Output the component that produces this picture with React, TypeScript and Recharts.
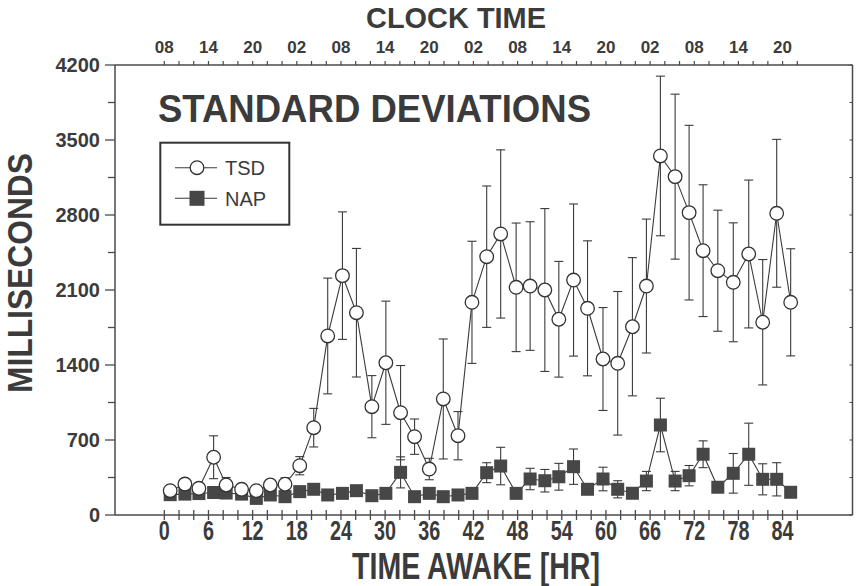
import React from "react";
import { ComposedChart, Line, XAxis, YAxis, ErrorBar } from "recharts";

// time awake (hr) of each test session, as placed in the figure
const hours = [
  0.8, 2.8, 4.7, 6.7, 8.4, 10.5, 12.5, 14.4, 16.4, 18.4, 20.3, 22.2, 24.2, 26.1, 28.2, 30.1,
  32.1, 34.0, 36.0, 37.9, 39.9, 41.8, 43.8, 45.7, 47.8, 49.7, 51.7, 53.6, 55.6, 57.5, 59.6,
  61.6, 63.6, 65.5, 67.4, 69.4, 71.3, 73.2, 75.2, 77.3, 79.4, 81.3, 83.2, 85.1,
];

// total sleep deprivation group, mean SD (ms) and its error
const tsdMean = [
  227, 289, 249, 539, 280, 240, 227, 280, 287, 460, 815, 1671, 2234, 1888, 1011, 1421, 955,
  731, 429, 1083, 740, 1985, 2411, 2623, 2125, 2137, 2100, 1827, 2193, 1929, 1456, 1416, 1757,
  2137, 3351, 3158, 2822, 2467, 2280, 2172, 2436, 1799, 2816, 1985,
];
const tsdErr = [
  40, 50, 40, 200, 70, 40, 40, 50, 60, 85, 180, 540, 595, 600, 290, 575, 440, 165, 100, 560,
  225, 570, 660, 785, 600, 600, 760, 540, 710, 630, 480, 670, 645, 625, 745, 770, 815, 615,
  565, 555, 690, 585, 690, 500,
];

// nap group
const napMean = [
  190, 195, 200, 210, 205, 195, 155, 187, 171, 218, 240, 187, 202, 227, 180, 202, 398, 171,
  202, 171, 187, 202, 395, 457, 202, 336, 320, 357, 451, 240, 336, 240, 203, 317, 840, 317,
  367, 567, 259, 389, 567, 333, 333, 212,
];
const napErr = [
  30, 30, 30, 30, 30, 30, 30, 30, 30, 40, 40, 30, 30, 40, 30, 30, 145, 30, 40, 30, 30, 40, 93,
  175, 30, 100, 105, 125, 165, 40, 110, 80, 30, 90, 250, 90, 95, 125, 40, 185, 290, 145, 155, 30,
];

const awakeTicks = [
  0, 2, 4, 6, 8, 10, 12, 14, 16, 18, 20, 22, 24, 26, 28, 30, 32, 34, 36, 38, 40, 42, 44, 46,
  48, 50, 52, 54, 56, 58, 60, 62, 64, 66, 68, 70, 72, 74, 76, 78, 80, 82, 84, 86,
];
const clockLabels = ["08", "14", "20", "02", "08", "14", "20", "02", "08", "14", "20", "02", "08", "14", "20"];
const msTicks = [0, 350, 700, 1050, 1400, 1750, 2100, 2450, 2800, 3150, 3500, 3850, 4200];

const data = hours.map((h, i) => ({
  hr: h,
  tsd: tsdMean[i],
  tsdErr: tsdErr[i],
  nap: napMean[i],
  napErr: napErr[i],
}));

const INK = "#3b3b3b";
const AXIS = "#4a4a4a";
const FONT = "'Liberation Sans', Arial, sans-serif";
const X_DOMAIN: [number, number] = [-6.7, 93.5];

function AwakeTick(props: any) {
  const { x, y, payload } = props;
  const v = payload.value as number;
  const labelled = v % 6 === 0 && v <= 84;
  return (
    <g>
      <line x1={x} x2={x} y1={y - 5} y2={y + 5} stroke={AXIS} strokeWidth={1.3} />
      {labelled && (
        <text
          x={x}
          y={y + 25}
          textAnchor="middle"
          fontSize={28}
          fontWeight="bold"
          fontFamily={FONT}
          fill={INK}
          textLength={String(v).length * 11}
          lengthAdjust="spacingAndGlyphs"
        >
          {v}
        </text>
      )}
    </g>
  );
}

function ClockTick(props: any) {
  const { x, y, payload } = props;
  const v = payload.value as number;
  const labelled = v % 6 === 0 && v <= 84;
  return (
    <g>
      <line x1={x} x2={x} y1={y - 4} y2={y} stroke={AXIS} strokeWidth={1.2} />
      {labelled && (
        <text x={x} y={y - 12} textAnchor="middle" fontSize={17} fontWeight="bold" fontFamily={FONT} fill={INK}>
          {clockLabels[v / 6]}
        </text>
      )}
    </g>
  );
}

function MsTick(props: any) {
  const { x, y, payload } = props;
  const v = payload.value as number;
  const major = v % 700 === 0;
  return (
    <g>
      <line x1={x - (major ? 10 : 7)} x2={x} y1={y} y2={y} stroke={AXIS} strokeWidth={1.3} />
      {major && (
        <text x={x - 15} y={y + 7} textAnchor="end" fontSize={20} fontWeight="bold" fontFamily={FONT} fill={INK}>
          {v}
        </text>
      )}
    </g>
  );
}

function RightTick(props: any) {
  const { x, y } = props;
  return <line x1={x - 3} x2={x} y1={y} y2={y} stroke={AXIS} strokeWidth={1} />;
}

function SquareDot(props: any) {
  const { cx, cy } = props;
  if (cx == null || cy == null) return <g />;
  return <rect x={cx - 6.5} y={cy - 6.5} width={13} height={13} fill="#474747" />;
}

export default function App() {
  return (
    <div style={{ position: "absolute", left: 0, top: 0, width: 860, height: 586, background: "#fff" }}>
      <ComposedChart width={860} height={586} data={data} margin={{ top: 0, right: 0, bottom: 0, left: 0 }}>
        <XAxis
          dataKey="hr"
          type="number"
          domain={X_DOMAIN}
          allowDataOverflow
          ticks={awakeTicks}
          interval={0}
          height={71}
          tickSize={0}
          tickMargin={0}
          tickLine={false}
          tick={<AwakeTick />}
          axisLine={{ stroke: AXIS, strokeWidth: 1.5 }}
        />
        <XAxis
          xAxisId="clock"
          orientation="top"
          dataKey="hr"
          type="number"
          domain={X_DOMAIN}
          allowDataOverflow
          ticks={awakeTicks}
          interval={0}
          height={65}
          tickSize={0}
          tickMargin={0}
          tickLine={false}
          tick={<ClockTick />}
          axisLine={{ stroke: AXIS, strokeWidth: 1.5 }}
        />
        <YAxis
          type="number"
          domain={[0, 4200]}
          allowDataOverflow
          ticks={msTicks}
          interval={0}
          width={115}
          tickSize={0}
          tickMargin={0}
          tickLine={false}
          tick={<MsTick />}
          axisLine={{ stroke: AXIS, strokeWidth: 1.5 }}
        />
        <YAxis
          yAxisId="r"
          orientation="right"
          type="number"
          domain={[0, 4200]}
          allowDataOverflow
          ticks={msTicks}
          interval={0}
          width={7.5}
          tickSize={0}
          tickMargin={0}
          tickLine={false}
          tick={<RightTick />}
          axisLine={{ stroke: AXIS, strokeWidth: 1.5 }}
        />
        <Line
          dataKey="nap"
          stroke={INK}
          strokeWidth={1.1}
          dot={<SquareDot />}
          activeDot={false}
          isAnimationActive={false}
        >
          <ErrorBar dataKey="napErr" direction="y" width={4.5} stroke={INK} strokeWidth={1.1} isAnimationActive={false} />
        </Line>
        <Line
          dataKey="tsd"
          stroke={INK}
          strokeWidth={1.1}
          dot={{ r: 6.8, fill: "#fff", stroke: "#333", strokeWidth: 1.3 }}
          activeDot={false}
          isAnimationActive={false}
        >
          <ErrorBar dataKey="tsdErr" direction="y" width={4.5} stroke={INK} strokeWidth={1.1} isAnimationActive={false} />
        </Line>
      </ComposedChart>

      <svg
        width={860}
        height={586}
        style={{ position: "absolute", left: 0, top: 0, pointerEvents: "none" }}
        fontFamily={FONT}
      >
        <text x={456} y={28} textAnchor="middle" fontSize={30} fontWeight="bold" fill={INK} textLength={180} lengthAdjust="spacingAndGlyphs">
          CLOCK TIME
        </text>
        <text x={476} y={579} textAnchor="middle" fontSize={37} fontWeight="bold" fill={INK} textLength={248} lengthAdjust="spacingAndGlyphs">
          TIME AWAKE [HR]
        </text>
        <text
          transform="translate(32 273) rotate(-90)"
          textAnchor="middle"
          fontSize={35}
          fontWeight="bold"
          fill={INK}
          textLength={240}
          lengthAdjust="spacingAndGlyphs"
        >
          MILLISECONDS
        </text>
        <text x={158} y={122} fontSize={39} fontWeight="bold" fill={INK} textLength={433} lengthAdjust="spacingAndGlyphs">
          STANDARD DEVIATIONS
        </text>

        <rect x={160.3} y={142.7} width={129} height={82} fill="#fff" stroke="#333" strokeWidth={2} />
        <line x1={175} x2={217} y1={167.7} y2={167.7} stroke={INK} strokeWidth={1.1} />
        <circle cx={197} cy={167.7} r={6.8} fill="#fff" stroke="#333" strokeWidth={1.3} />
        <text x={225} y={175} fontSize={20} fill={INK}>TSD</text>
        <line x1={175} x2={217} y1={198.3} y2={198.3} stroke={INK} strokeWidth={1.1} />
        <rect x={189.5} y={190.8} width={15} height={15} fill="#474747" />
        <text x={225} y={205.5} fontSize={20} fill={INK}>NAP</text>
      </svg>
    </div>
  );
}
